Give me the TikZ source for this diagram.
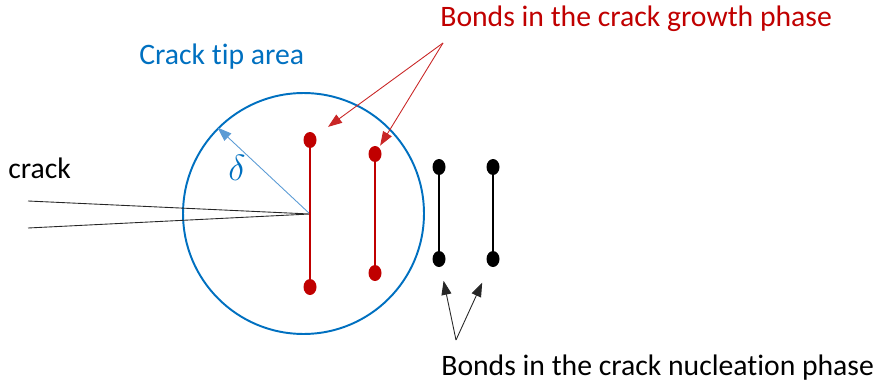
\documentclass[tikz,border=0pt]{standalone}
\usepackage{fontspec}
\setmainfont{Carlito}[Ligatures={NoCommon,NoContextual}]
\usetikzlibrary{arrows.meta,shapes.geometric}
\definecolor{tipblue}{HTML}{0070C0}
\definecolor{radblue}{HTML}{5B9BD5}
\definecolor{growred}{HTML}{C00000}

\begin{document}
\begin{tikzpicture}[
   x=0.02cm,y=-0.02cm,
   growbond/.style={ellipse,fill=growred,minimum width=0.26cm,minimum height=0.32cm,inner sep=0pt},
   nuclbond/.style={ellipse,fill=black,minimum width=0.26cm,minimum height=0.32cm,inner sep=0pt},
   lbl/.style={anchor=base west,inner sep=0pt,font=\fontsize{16.9}{20}\selectfont},
   ptr/.style={line width=0.5pt,-{Triangle[length=0.28cm,width=0.2cm]}}
 ]
  \useasboundingbox (0,0) rectangle (875,385);
  \node[circle,draw=tipblue,line width=1.1pt,minimum size=4.82cm,inner sep=0pt] (area) at (303.5,213.5) {};
  \coordinate (tip) at (310,214);
  \coordinate (c1) at (28,201);
  \coordinate (c2) at (28,228);
  \draw[black!85,line width=0.5pt] (c1)--(tip)--(c2);
  \draw[ptr,radblue] (tip)--(area.135);
  \node[text=tipblue,font=\fontsize{21}{24}\selectfont] (dlab) at (237,168) {$\delta$};
  \node[growbond] (g1t) at (310,140) {};
  \node[growbond] (g1b) at (310,287) {};
  \node[growbond] (g2t) at (375,154) {};
  \node[growbond] (g2b) at (375,273) {};
  \draw[growred,line width=1pt] (g1t)--(g1b);
  \draw[growred,line width=1pt] (g2t)--(g2b);
  \node[nuclbond] (n1t) at (439,167) {};
  \node[nuclbond] (n1b) at (439,259) {};
  \node[nuclbond] (n2t) at (493,167) {};
  \node[nuclbond] (n2b) at (493,259) {};
  \draw[line width=1pt] (n1t)--(n1b);
  \draw[line width=1pt] (n2t)--(n2b);
  \node[lbl,text=growred] (glab) at (440,27) {Bonds in the crack growth phase};
  \node[lbl] (nlab) at (441,375) {Bonds in the crack nucleation phase};
  \node[lbl,text=tipblue] (alab) at (139,65) {Crack tip area};
  \node[lbl] (clab) at (8,178) {crack};
  \coordinate (gsrc) at (443,43);
  \coordinate (nsrc) at (456,340);
  \draw[ptr,growred!85!white,shorten >=0.3cm] (gsrc)--(g1t);
  \draw[ptr,growred!85!white,shorten >=0.04cm] (gsrc)--(g2t);
  \draw[ptr,black!85,shorten >=0.28cm] (nsrc)--(n1b);
  \draw[ptr,black!85,shorten >=0.36cm] (nsrc)--(n2b);
\end{tikzpicture}
\end{document}
